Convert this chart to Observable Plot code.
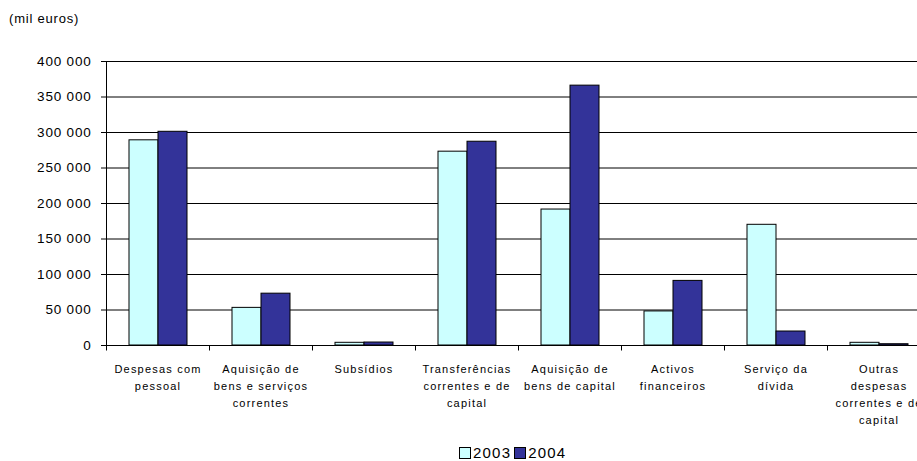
<!DOCTYPE html>
<html>
<head>
<meta charset="utf-8">
<script src="https://cdn.jsdelivr.net/npm/d3@7"></script>
<script src="https://cdn.jsdelivr.net/npm/@observablehq/plot@0.6"></script>
<style>
html, body { margin: 0; padding: 0; overflow: hidden; background: #fff; width: 917px; height: 461px; }
#wrap { position: relative; width: 917px; height: 461px; overflow: hidden; font-family: Arial, "Liberation Sans", sans-serif; color: #000; }
#unit { position: absolute; left: 9px; top: 11px; font-size: 13px; letter-spacing: 0.8px; }
#chart { position: absolute; left: 0; top: 0; width: 930px; }
#chart svg { max-width: none !important; }
#legend { position: absolute; left: 459px; top: 445px; font-size: 15px; letter-spacing: 1.2px; display: flex; align-items: center; white-space: nowrap; line-height: 16px; }
#legend .sw { display: inline-block; width: 10px; height: 10px; border: 1px solid #000; margin-right: 2px; }
#legend .item { display: inline-flex; align-items: center; margin-right: 3px; }
g[aria-label="y-axis tick label"] { letter-spacing: 0.8px; }
g[aria-label="fx-axis tick label"] { letter-spacing: 1.2px; }
</style>
</head>
<body>
<div id="wrap">
  <div id="unit">(mil euros)</div>
  <div id="chart"></div>
  <div id="legend"></div>
</div>
<script>
// ---- data ----
const categories = [
  "Despesas com\npessoal",
  "Aquisição de\nbens e serviços\ncorrentes",
  "Subsídios",
  "Transferências\ncorrentes e de\ncapital",
  "Aquisição de\nbens de capital",
  "Activos\nfinanceiros",
  "Serviço da\ndívida",
  "Outras\ndespesas\ncorrentes e de\ncapital"
];
const years = ["2003", "2004"];
const values2003 = [289000, 53000, 3800, 273000, 191500, 48000, 170000, 3800];
const values2004 = [301000, 73000, 4200, 287000, 366000, 91000, 19700, 1800];
const yTicks = [0, 50000, 100000, 150000, 200000, 250000, 300000, 350000, 400000];
const colors = ["#CCFFFF", "#333399"];

const rows = [];
categories.forEach((c, i) => {
  rows.push({cat: c, year: years[0], value: values2003[i]});
  rows.push({cat: c, year: years[1], value: values2004[i]});
});

const fmt = d3.formatLocale({decimal: ",", thousands: " ", grouping: [3], currency: ["", "€"]}).format(",d");

const W = 930, H = 430;
const plot = Plot.plot({
  width: W,
  height: H,
  marginLeft: 106,
  marginRight: 0,
  marginTop: 61,
  marginBottom: H - 345,
  style: {fontFamily: "Arial, 'Liberation Sans', sans-serif", background: "transparent", color: "#000", maxWidth: "none"},
  fx: {domain: categories, padding: 0, label: null},
  x: {domain: years, paddingInner: 0, paddingOuter: 0.745, axis: null},
  y: {domain: [0, 400000], axis: null},
  color: {domain: years, range: colors},
  marks: [
    Plot.ruleY(yTicks.slice(1), {stroke: "#000", strokeWidth: 1}),
    Plot.barY(rows, {fx: "cat", x: "year", y: "value", fill: "year", stroke: "#000", strokeWidth: 1}),
    Plot.ruleY([0], {stroke: "#000", strokeWidth: 1}),
    Plot.axisY({ticks: yTicks, tickFormat: fmt, tickSize: 5, tickPadding: 10, fontSize: 13.5, anchor: "left", label: null}),
    Plot.axisFx({anchor: "bottom", tickSize: 0, tickPadding: 15, fontSize: 11, lineHeight: 1.545, label: null})
  ]
});
document.getElementById("chart").appendChild(plot);

// axis line and category boundary tick marks, placed through the plot's own scales
const fx = plot.scale("fx");
const y = plot.scale("y");
const y0 = Math.round(y.apply(0)) + 0.5;
const yTop = Math.round(y.apply(400000)) + 0.5;
const g = d3.select(plot).append("g").attr("stroke", "#000").attr("stroke-width", 1);
const x0 = Math.round(fx.apply(categories[0])) + 0.5;
g.append("line").attr("x1", x0).attr("x2", x0).attr("y1", yTop).attr("y2", y0 + 5);
categories.slice(1).forEach(c => {
  const xx = Math.round(fx.apply(c)) + 0.5;
  g.append("line").attr("x1", xx).attr("x2", xx).attr("y1", y0).attr("y2", y0 + 5);
});

// legend
const leg = document.getElementById("legend");
years.forEach((yr, i) => {
  const item = document.createElement("span");
  item.className = "item";
  const sw = document.createElement("span");
  sw.className = "sw";
  sw.style.background = colors[i];
  item.appendChild(sw);
  item.appendChild(document.createTextNode(yr));
  leg.appendChild(item);
});
</script>
</body>
</html>
